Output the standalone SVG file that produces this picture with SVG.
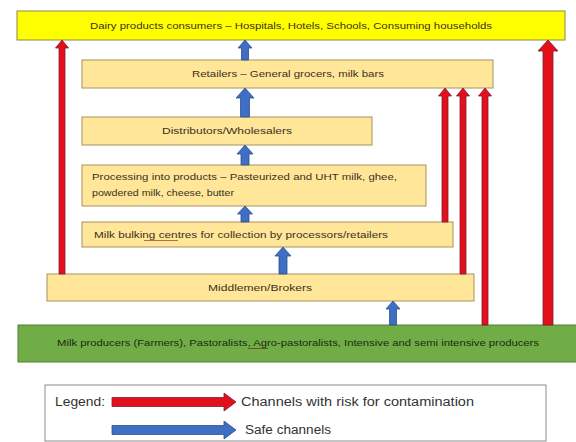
<svg xmlns="http://www.w3.org/2000/svg" width="576" height="442" viewBox="0 0 576 442">
<style>
.box{fill:#ffe699;stroke:#a8925e;stroke-width:1}
.t{font-family:"Liberation Sans",Arial,sans-serif;font-size:9.5px;fill:#3b3120}
.red{fill:#e3101c;stroke:#7b1d3a;stroke-width:0.8}
.blue{fill:#3f6fc4;stroke:#2f4f8f;stroke-width:0.8}
.lg{font-family:"Liberation Sans",Arial,sans-serif;fill:#333}
</style>
<rect width="576" height="442" fill="#ffffff"/>
<g id="consumers">
<rect x="17" y="11" width="548" height="29" fill="#ffff00" stroke="#8a8a4a" stroke-width="1"/>
<text class="t" x="291" y="29" text-anchor="middle" textLength="402" lengthAdjust="spacingAndGlyphs">Dairy products consumers – Hospitals, Hotels, Schools, Consuming households</text>
</g>
<g id="retailers">
<rect class="box" x="82" y="60" width="411" height="28"/>
<text class="t" x="288" y="77" text-anchor="middle" textLength="192" lengthAdjust="spacingAndGlyphs">Retailers – General grocers, milk bars</text>
</g>
<g id="distributors">
<rect class="box" x="82" y="117" width="290" height="28"/>
<text class="t" x="227" y="134" text-anchor="middle" textLength="130" lengthAdjust="spacingAndGlyphs">Distributors/Wholesalers</text>
</g>
<g id="processing">
<rect class="box" x="82" y="165" width="344" height="41"/>
<text class="t" x="92" y="180" textLength="305" lengthAdjust="spacingAndGlyphs">Processing into products – Pasteurized and UHT milk, ghee,</text>
<text class="t" x="92" y="196" textLength="142" lengthAdjust="spacingAndGlyphs">powdered milk, cheese, butter</text>
</g>
<g id="bulking">
<rect class="box" x="82" y="222" width="371" height="25"/>
<text class="t" x="94" y="238" textLength="294" lengthAdjust="spacingAndGlyphs">Milk bulking centres for collection by processors/retailers</text>
<line x1="144" y1="240.5" x2="178" y2="240.5" stroke="#a0522d" stroke-width="0.8"/>
</g>
<g id="middlemen">
<rect class="box" x="47" y="274" width="427" height="27"/>
<text class="t" x="260" y="291" text-anchor="middle" textLength="104" lengthAdjust="spacingAndGlyphs">Middlemen/Brokers</text>
</g>
<g id="producers">
<rect x="18" y="325" width="560" height="37" fill="#70ad47" stroke="#507e32" stroke-width="1"/>
<text class="t" x="298" y="346" text-anchor="middle" textLength="482" lengthAdjust="spacingAndGlyphs" style="fill:#1e2a12">Milk producers (Farmers), Pastoralists, Agro-pastoralists, Intensive and semi intensive producers</text>
<line x1="248" y1="348.5" x2="268" y2="348.5" stroke="#6b3a2a" stroke-width="0.8"/>
</g>
<g id="connectors">
<polygon class="red" points="59,274 59,48 55.5,48 62,40 68.5,48 65,48 65,274"/>
<polygon class="red" points="543,325 543,51 538,51 548,40 558,51 553,51 553,325"/>
<polygon class="red" points="442,222 442,96 438.5,96 445,88 451.5,96 448,96 448,222"/>
<polygon class="red" points="460,274 460,96 456.5,96 463,88 469.5,96 466,96 466,274"/>
<polygon class="red" points="482,325 482,96 478.5,96 485,88 491.5,96 488,96 488,325"/>
<polygon class="blue" points="241.5,60 241.5,48 238,48 245,40 252,48 248.5,48 248.5,60"/>
<polygon class="blue" points="240.5,117 240.5,98 236,98 245,88 254,98 249.5,98 249.5,117"/>
<polygon class="blue" points="241,165 241,154 237,154 245,145 253,154 249,154 249,165"/>
<polygon class="blue" points="241,222 241,214 237.5,214 245,206 252.5,214 249,214 249,222"/>
<polygon class="blue" points="279,274 279,256 275,256 283,247 291,256 287,256 287,274"/>
<polygon class="blue" points="389.5,325 389.5,309 386,309 393,301 400,309 396.5,309 396.5,325"/>
</g>
<g id="legend">
<rect x="45" y="385" width="501" height="56" fill="#ffffff" stroke="#8c8c8c" stroke-width="1"/>
<text class="lg" x="55" y="406" font-size="12" textLength="50" lengthAdjust="spacingAndGlyphs">Legend:</text>
<polygon class="red" points="112,397.5 224,397.5 224,393 236,402 224,411 224,406.5 112,406.5"/>
<polygon class="blue" points="112,425.5 224,425.5 224,421 236,430 224,439 224,434.5 112,434.5"/>
<text class="lg" x="241" y="406" font-size="12.5" textLength="233" lengthAdjust="spacingAndGlyphs">Channels with risk for contamination</text>
<text class="lg" x="245" y="434" font-size="12.5" textLength="86" lengthAdjust="spacingAndGlyphs">Safe channels</text>
</g>
</svg>
